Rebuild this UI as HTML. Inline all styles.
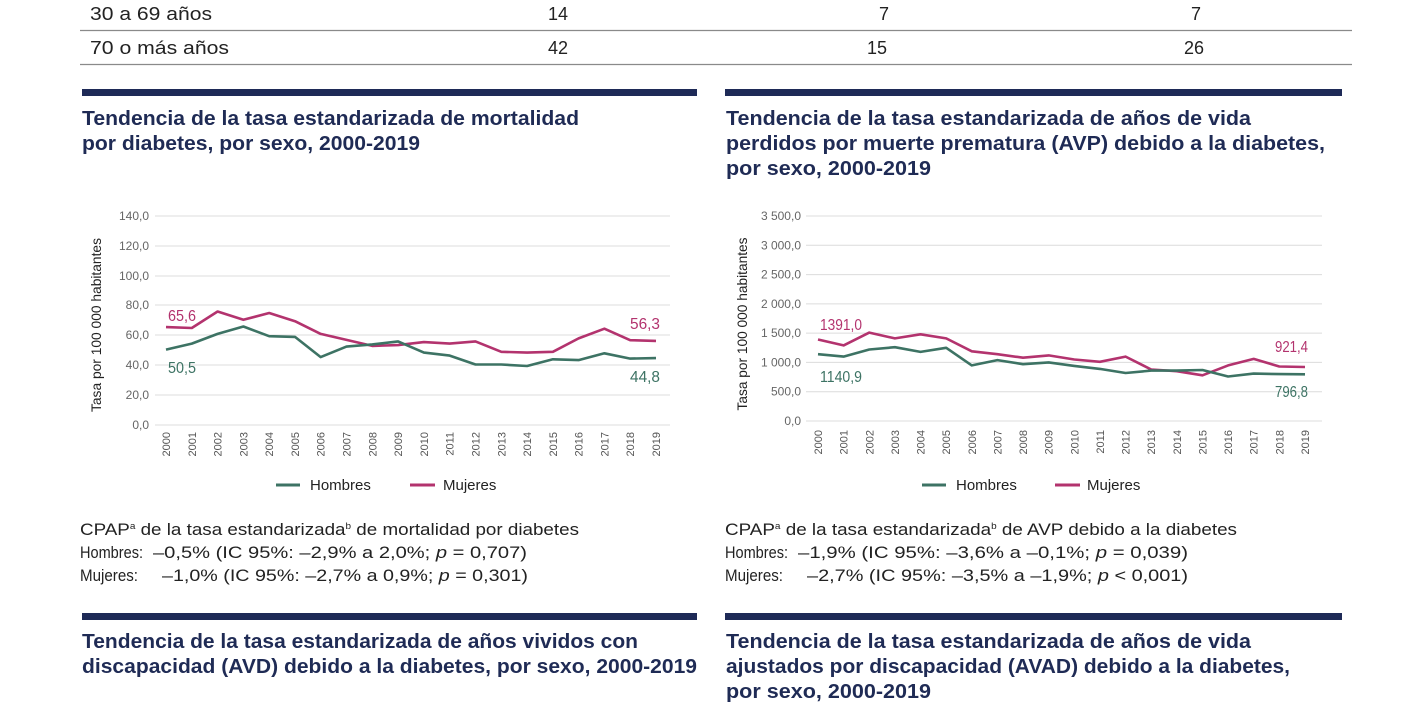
<!DOCTYPE html>
<html><head><meta charset="utf-8">
<style>
html,body{margin:0;padding:0;background:#fff;}
svg{display:block;}
text{font-family:"Liberation Sans",Arial,sans-serif;}
</style></head>
<body>
<svg width="1420" height="710" viewBox="0 0 1420 710" xmlns="http://www.w3.org/2000/svg">
<!-- Table -->
<g font-size="18" fill="#222">
<text x="90" y="20" textLength="122" lengthAdjust="spacingAndGlyphs">30 a 69 años</text>
<text x="558" y="20" text-anchor="middle">14</text>
<text x="884" y="20" text-anchor="middle">7</text>
<text x="1196" y="20" text-anchor="middle">7</text>
<text x="90" y="54" textLength="139" lengthAdjust="spacingAndGlyphs">70 o más años</text>
<text x="558" y="54" text-anchor="middle">42</text>
<text x="877" y="54" text-anchor="middle">15</text>
<text x="1194" y="54" text-anchor="middle">26</text>
</g>
<line x1="80" y1="30.5" x2="1352" y2="30.5" stroke="#8a8a8a" stroke-width="1.2"/>
<line x1="80" y1="64.5" x2="1352" y2="64.5" stroke="#8a8a8a" stroke-width="1.2"/>

<!-- Navy bars -->
<rect x="82" y="89" width="615" height="7" fill="#1e2a57"/>
<rect x="725" y="89" width="617" height="7" fill="#1e2a57"/>
<rect x="82" y="613" width="615" height="7" fill="#1e2a57"/>
<rect x="725" y="613" width="617" height="7" fill="#1e2a57"/>

<!-- Titles -->
<g font-size="20" font-weight="bold" fill="#1f2b55">
<text x="82" y="125" textLength="497" lengthAdjust="spacingAndGlyphs">Tendencia de la tasa estandarizada de mortalidad</text>
<text x="82" y="150" textLength="338" lengthAdjust="spacingAndGlyphs">por diabetes, por sexo, 2000-2019</text>
<text x="726" y="125" textLength="525" lengthAdjust="spacingAndGlyphs">Tendencia de la tasa estandarizada de años de vida</text>
<text x="726" y="150" textLength="599" lengthAdjust="spacingAndGlyphs">perdidos por muerte prematura (AVP) debido a la diabetes,</text>
<text x="726" y="175" textLength="205" lengthAdjust="spacingAndGlyphs">por sexo, 2000-2019</text>
<text x="82" y="648" textLength="556" lengthAdjust="spacingAndGlyphs">Tendencia de la tasa estandarizada de años vividos con</text>
<text x="82" y="673" textLength="615" lengthAdjust="spacingAndGlyphs">discapacidad (AVD) debido a la diabetes, por sexo, 2000-2019</text>
<text x="726" y="648" textLength="525" lengthAdjust="spacingAndGlyphs">Tendencia de la tasa estandarizada de años de vida</text>
<text x="726" y="673" textLength="564" lengthAdjust="spacingAndGlyphs">ajustados por discapacidad (AVAD) debido a la diabetes,</text>
<text x="726" y="698" textLength="205" lengthAdjust="spacingAndGlyphs">por sexo, 2000-2019</text>
</g>

<!-- LEFT CHART -->
<g stroke="#dcdcdc" stroke-width="1">
<line x1="155" y1="216" x2="670" y2="216"/>
<line x1="155" y1="246" x2="670" y2="246"/>
<line x1="155" y1="276" x2="670" y2="276"/>
<line x1="155" y1="305" x2="670" y2="305"/>
<line x1="155" y1="335" x2="670" y2="335"/>
<line x1="155" y1="365" x2="670" y2="365"/>
<line x1="155" y1="395" x2="670" y2="395"/>
<line x1="155" y1="425" x2="670" y2="425"/>
</g>
<g font-size="12" fill="#666" text-anchor="end">
<text x="149" y="220">140,0</text>
<text x="149" y="250">120,0</text>
<text x="149" y="280">100,0</text>
<text x="149" y="309">80,0</text>
<text x="149" y="339">60,0</text>
<text x="149" y="369">40,0</text>
<text x="149" y="399">20,0</text>
<text x="149" y="429">0,0</text>
</g>
<text transform="translate(101,325) rotate(-90)" font-size="14" fill="#222" text-anchor="middle" textLength="174" lengthAdjust="spacingAndGlyphs">Tasa por 100 000 habitantes</text>
<g font-size="11" fill="#555" text-anchor="end">
<text transform="translate(170,432) rotate(-90)">2000</text>
<text transform="translate(195.8,432) rotate(-90)">2001</text>
<text transform="translate(221.6,432) rotate(-90)">2002</text>
<text transform="translate(247.4,432) rotate(-90)">2003</text>
<text transform="translate(273.2,432) rotate(-90)">2004</text>
<text transform="translate(299,432) rotate(-90)">2005</text>
<text transform="translate(324.7,432) rotate(-90)">2006</text>
<text transform="translate(350.5,432) rotate(-90)">2007</text>
<text transform="translate(376.3,432) rotate(-90)">2008</text>
<text transform="translate(402.1,432) rotate(-90)">2009</text>
<text transform="translate(427.9,432) rotate(-90)">2010</text>
<text transform="translate(453.7,432) rotate(-90)">2011</text>
<text transform="translate(479.5,432) rotate(-90)">2012</text>
<text transform="translate(505.3,432) rotate(-90)">2013</text>
<text transform="translate(531.1,432) rotate(-90)">2014</text>
<text transform="translate(556.9,432) rotate(-90)">2015</text>
<text transform="translate(582.6,432) rotate(-90)">2016</text>
<text transform="translate(608.4,432) rotate(-90)">2017</text>
<text transform="translate(634.2,432) rotate(-90)">2018</text>
<text transform="translate(660,432) rotate(-90)">2019</text>
</g>
<polyline fill="none" stroke="#b3336e" stroke-width="2.6" stroke-linejoin="round" points="166,327.1 191.8,328 217.6,311.5 243.4,319.8 269.2,313 295,321.2 320.7,333.9 346.5,339.9 372.3,345.9 398.1,345.1 423.9,342.1 449.7,343.6 475.5,341.4 501.3,351.8 527.1,352.6 552.9,351.8 578.6,338.4 604.4,328.7 630.2,340.2 656,340.9"/>
<polyline fill="none" stroke="#3d7364" stroke-width="2.6" stroke-linejoin="round" points="166,349.6 191.8,343.6 217.6,333.9 243.4,326.5 269.2,336.2 295,336.9 320.7,357.1 346.5,346.6 372.3,344.4 398.1,341.4 423.9,352.6 449.7,355.6 475.5,364.5 501.3,364.5 527.1,366 552.9,359.3 578.6,360.1 604.4,353.3 630.2,358.6 656,358.1"/>
<g font-size="16">
<text x="168" y="321" fill="#b3336e" textLength="28" lengthAdjust="spacingAndGlyphs">65,6</text>
<text x="168" y="373" fill="#3d7364" textLength="28" lengthAdjust="spacingAndGlyphs">50,5</text>
<text x="630" y="329" fill="#b3336e" textLength="30" lengthAdjust="spacingAndGlyphs">56,3</text>
<text x="630" y="382" fill="#3d7364" textLength="30" lengthAdjust="spacingAndGlyphs">44,8</text>
</g>
<line x1="276" y1="485" x2="300" y2="485" stroke="#3d7364" stroke-width="3"/>
<text x="310" y="490" font-size="15" fill="#222">Hombres</text>
<line x1="410" y1="485" x2="435" y2="485" stroke="#b3336e" stroke-width="3"/>
<text x="443" y="490" font-size="15" fill="#222">Mujeres</text>

<!-- RIGHT CHART -->
<g stroke="#dcdcdc" stroke-width="1">
<line x1="806" y1="216" x2="1322" y2="216"/>
<line x1="806" y1="245.3" x2="1322" y2="245.3"/>
<line x1="806" y1="274.6" x2="1322" y2="274.6"/>
<line x1="806" y1="303.9" x2="1322" y2="303.9"/>
<line x1="806" y1="333.1" x2="1322" y2="333.1"/>
<line x1="806" y1="362.4" x2="1322" y2="362.4"/>
<line x1="806" y1="391.7" x2="1322" y2="391.7"/>
<line x1="806" y1="421" x2="1322" y2="421"/>
</g>
<g font-size="12" fill="#666" text-anchor="end">
<text x="801" y="220">3 500,0</text>
<text x="801" y="249.3">3 000,0</text>
<text x="801" y="278.6">2 500,0</text>
<text x="801" y="307.9">2 000,0</text>
<text x="801" y="337.1">1 500,0</text>
<text x="801" y="366.4">1 000,0</text>
<text x="801" y="395.7">500,0</text>
<text x="801" y="425">0,0</text>
</g>
<text transform="translate(747,324) rotate(-90)" font-size="14" fill="#222" text-anchor="middle" textLength="173" lengthAdjust="spacingAndGlyphs">Tasa por 100 000 habitantes</text>
<g font-size="11" fill="#555" text-anchor="end">
<text transform="translate(822,430) rotate(-90)">2000</text>
<text transform="translate(847.6,430) rotate(-90)">2001</text>
<text transform="translate(873.3,430) rotate(-90)">2002</text>
<text transform="translate(898.9,430) rotate(-90)">2003</text>
<text transform="translate(924.5,430) rotate(-90)">2004</text>
<text transform="translate(950.2,430) rotate(-90)">2005</text>
<text transform="translate(975.8,430) rotate(-90)">2006</text>
<text transform="translate(1001.4,430) rotate(-90)">2007</text>
<text transform="translate(1027,430) rotate(-90)">2008</text>
<text transform="translate(1052.7,430) rotate(-90)">2009</text>
<text transform="translate(1078.3,430) rotate(-90)">2010</text>
<text transform="translate(1103.9,430) rotate(-90)">2011</text>
<text transform="translate(1129.6,430) rotate(-90)">2012</text>
<text transform="translate(1155.2,430) rotate(-90)">2013</text>
<text transform="translate(1180.8,430) rotate(-90)">2014</text>
<text transform="translate(1206.5,430) rotate(-90)">2015</text>
<text transform="translate(1232.1,430) rotate(-90)">2016</text>
<text transform="translate(1257.7,430) rotate(-90)">2017</text>
<text transform="translate(1283.3,430) rotate(-90)">2018</text>
<text transform="translate(1309,430) rotate(-90)">2019</text>
</g>
<polyline fill="none" stroke="#b3336e" stroke-width="2.6" stroke-linejoin="round" points="818,339.5 843.6,345.4 869.3,332.6 894.9,338.4 920.5,334.3 946.2,338.4 971.8,351.3 997.4,354.2 1023,357.7 1048.7,355.4 1074.3,359.5 1099.9,361.8 1125.6,356.6 1151.2,369.5 1176.8,371.2 1202.5,375.3 1228.1,365.4 1253.7,358.9 1279.3,366.5 1305,367"/>
<polyline fill="none" stroke="#3d7364" stroke-width="2.6" stroke-linejoin="round" points="818,354.2 843.6,356.6 869.3,349.5 894.9,347.2 920.5,351.9 946.2,347.8 971.8,365.4 997.4,360.1 1023,364.2 1048.7,362.4 1074.3,365.9 1099.9,368.9 1125.6,373 1151.2,370.6 1176.8,370.6 1202.5,370 1228.1,376.5 1253.7,373.6 1279.3,374.1 1305,374.3"/>
<g font-size="16">
<text x="820" y="330" fill="#b3336e" textLength="42" lengthAdjust="spacingAndGlyphs">1391,0</text>
<text x="820" y="382" fill="#3d7364" textLength="42" lengthAdjust="spacingAndGlyphs">1140,9</text>
<text x="1275" y="352" fill="#b3336e" textLength="33" lengthAdjust="spacingAndGlyphs">921,4</text>
<text x="1275" y="397" fill="#3d7364" textLength="33" lengthAdjust="spacingAndGlyphs">796,8</text>
</g>
<line x1="922" y1="485" x2="946" y2="485" stroke="#3d7364" stroke-width="3"/>
<text x="956" y="490" font-size="15" fill="#222">Hombres</text>
<line x1="1055" y1="485" x2="1080" y2="485" stroke="#b3336e" stroke-width="3"/>
<text x="1087" y="490" font-size="15" fill="#222">Mujeres</text>

<!-- Stats text -->
<g font-size="17" fill="#222">
<text x="80" y="535" textLength="499" lengthAdjust="spacingAndGlyphs">CPAP<tspan font-size="9" dy="-6">a</tspan><tspan dy="6"> de la tasa estandarizada</tspan><tspan font-size="9" dy="-6">b</tspan><tspan dy="6"> de mortalidad por diabetes</tspan></text>
<text x="80" y="558" textLength="63" lengthAdjust="spacingAndGlyphs">Hombres:</text>
<text x="153" y="558" textLength="374" lengthAdjust="spacingAndGlyphs">–0,5% (IC 95%: –2,9% a 2,0%; <tspan font-style="italic">p</tspan> = 0,707)</text>
<text x="80" y="581" textLength="58" lengthAdjust="spacingAndGlyphs">Mujeres:</text>
<text x="162" y="581" textLength="366" lengthAdjust="spacingAndGlyphs">–1,0% (IC 95%: –2,7% a 0,9%; <tspan font-style="italic">p</tspan> = 0,301)</text>

<text x="725" y="535" textLength="512" lengthAdjust="spacingAndGlyphs">CPAP<tspan font-size="9" dy="-6">a</tspan><tspan dy="6"> de la tasa estandarizada</tspan><tspan font-size="9" dy="-6">b</tspan><tspan dy="6"> de AVP debido a la diabetes</tspan></text>
<text x="725" y="558" textLength="63" lengthAdjust="spacingAndGlyphs">Hombres:</text>
<text x="798" y="558" textLength="390" lengthAdjust="spacingAndGlyphs">–1,9% (IC 95%: –3,6% a –0,1%; <tspan font-style="italic">p</tspan> = 0,039)</text>
<text x="725" y="581" textLength="58" lengthAdjust="spacingAndGlyphs">Mujeres:</text>
<text x="807" y="581" textLength="381" lengthAdjust="spacingAndGlyphs">–2,7% (IC 95%: –3,5% a –1,9%; <tspan font-style="italic">p</tspan> &lt; 0,001)</text>
</g>
</svg>
</body></html>
